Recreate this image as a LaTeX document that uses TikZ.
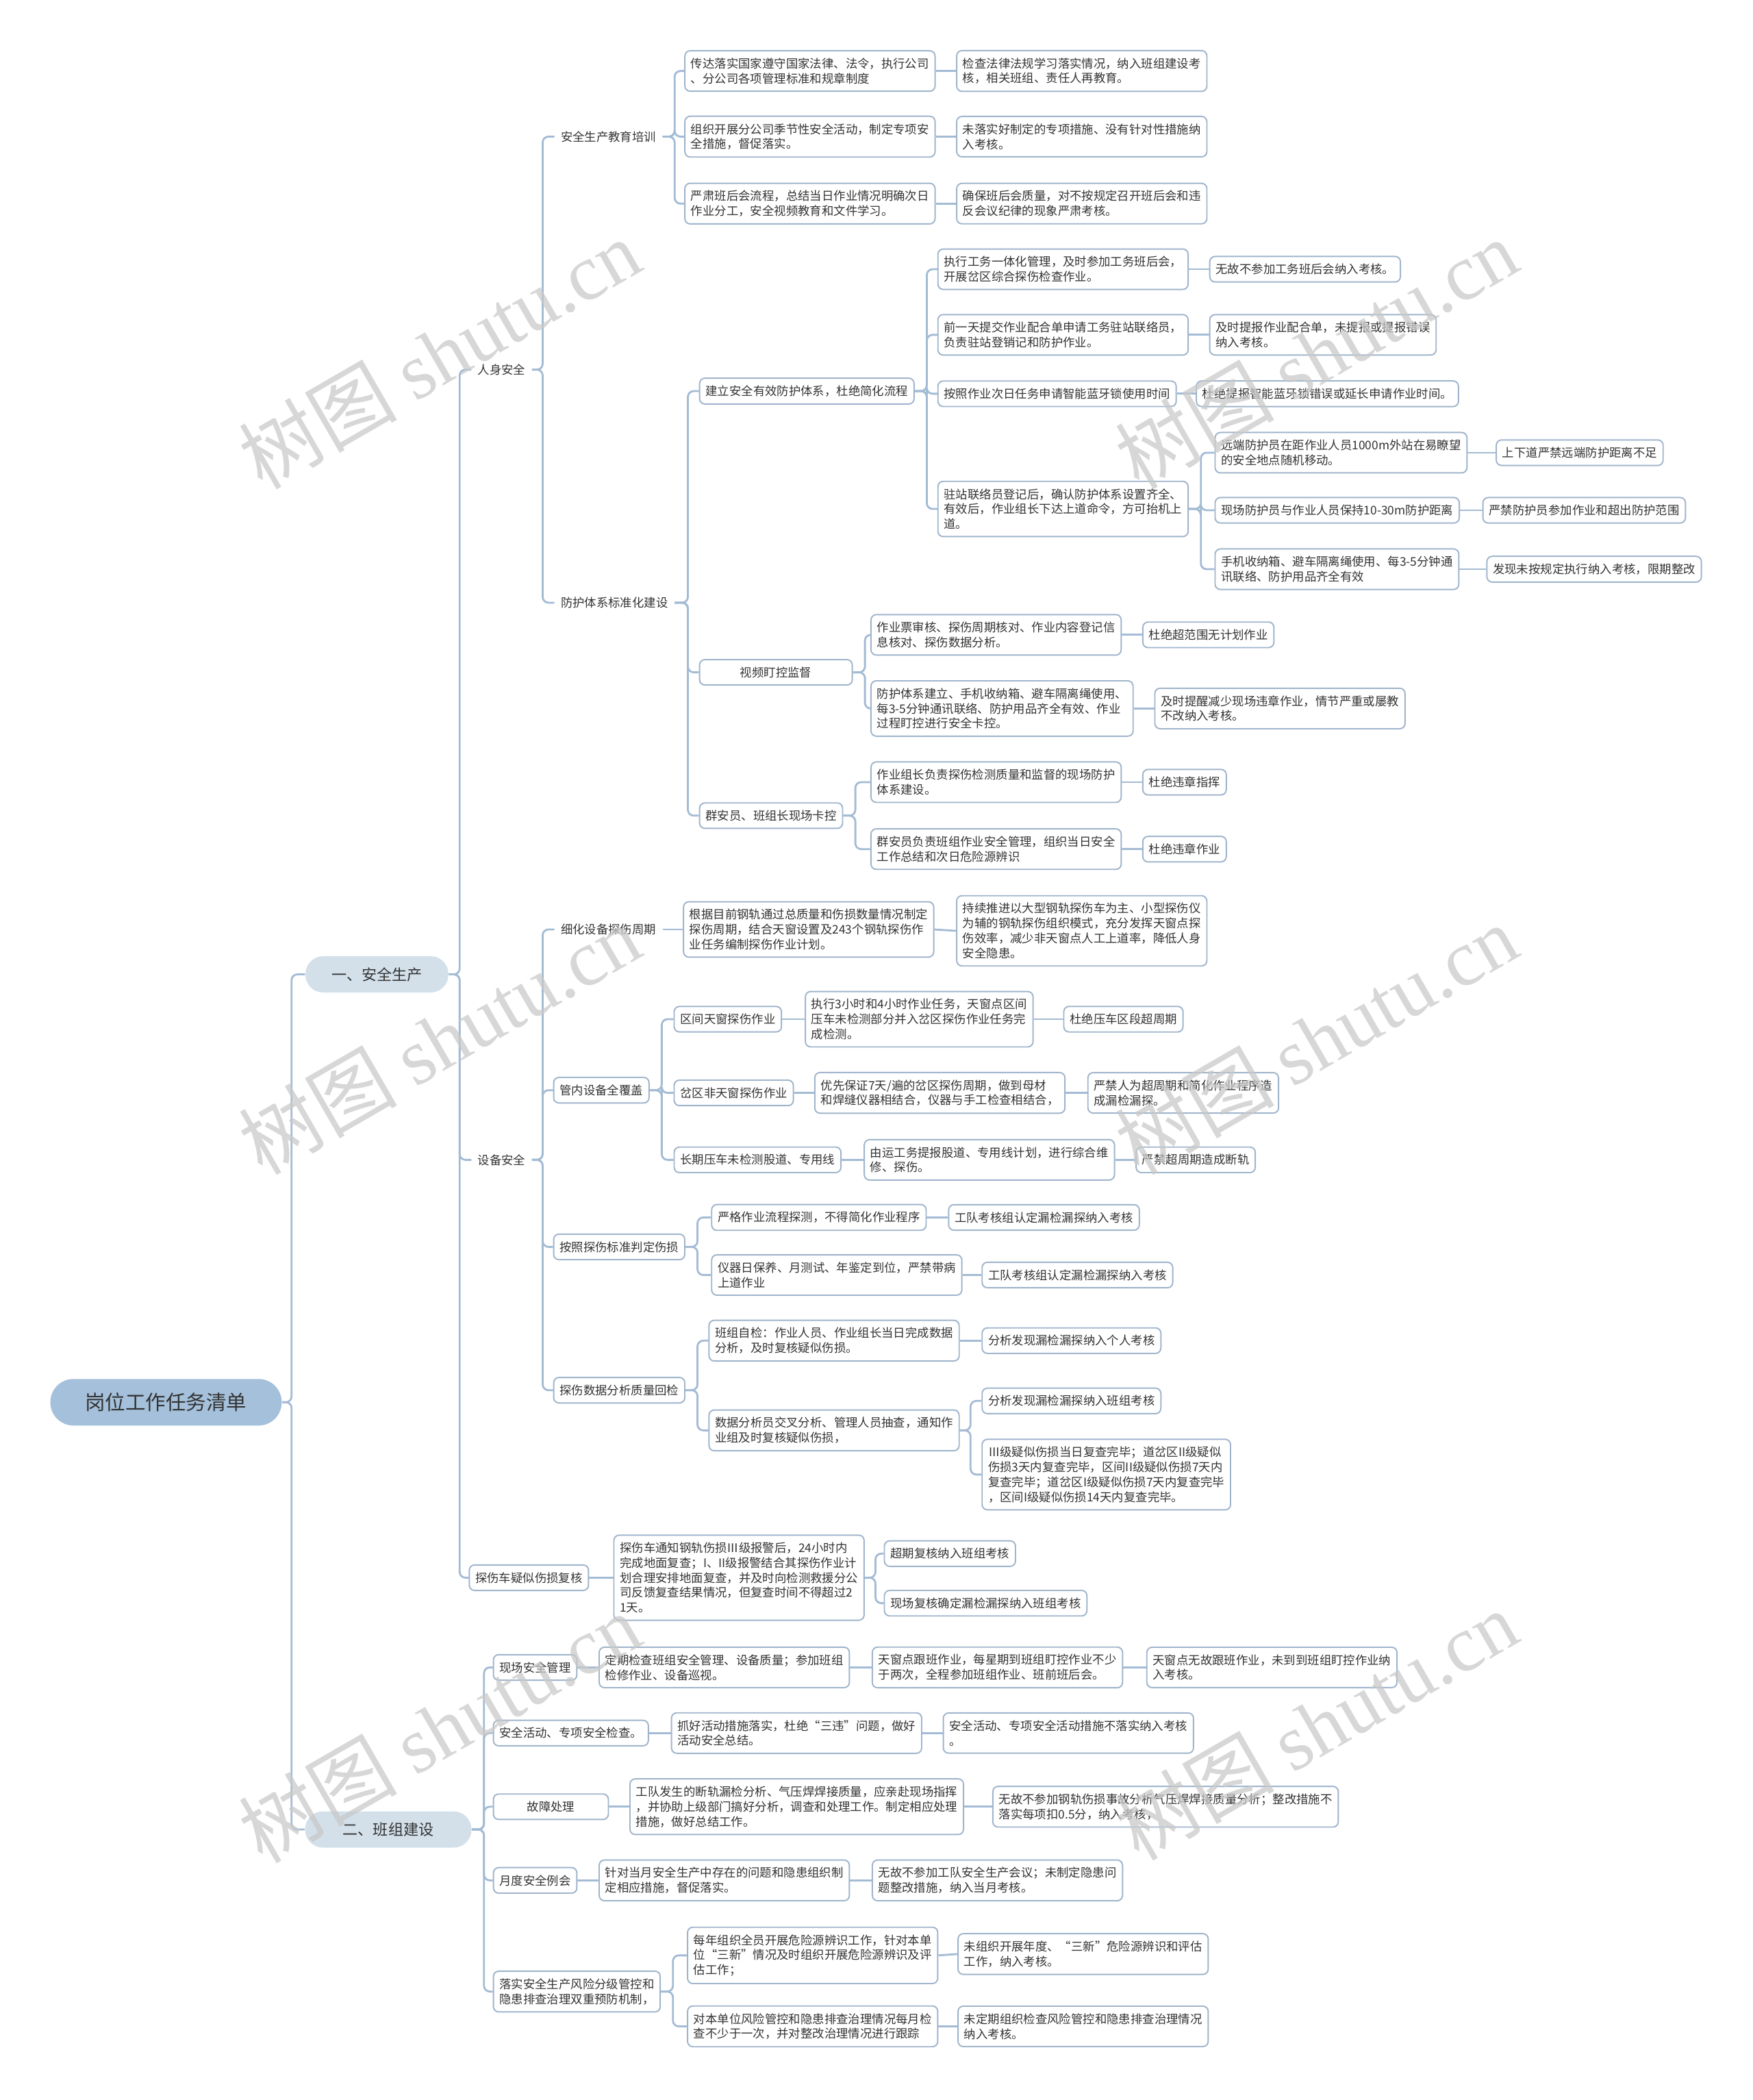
\documentclass[tikz,border=0pt]{standalone}
\usepackage{fontspec}
\setmainfont{Noto Sans CJK SC}
\newfontfamily\wmlatin{Liberation Serif}
\usepackage{tikz}
\usetikzlibrary{positioning}
\definecolor{lineC}{HTML}{A3BBD4}
\definecolor{boxC}{HTML}{A0B5CC}
\definecolor{rootC}{HTML}{A4C0DA}
\definecolor{topicC}{HTML}{D3E0EA}
\definecolor{textC}{HTML}{333333}
\newcommand{\leaffont}{\fontsize{4.95}{6.2}\selectfont}
\tikzset{
  rootN/.style={rectangle, rounded corners=9.6pt, fill=rootC, text=textC,
                minimum width=3.38cm, minimum height=0.68cm,
                font=\fontsize{8.4}{10}\selectfont},
  topicN/.style={rectangle, rounded corners=7.4pt, fill=topicC, text=textC,
                 minimum height=0.53cm, font=\fontsize{6.3}{7.5}\selectfont},
  plainN/.style={anchor=west, inner xsep=2.5pt, inner ysep=3pt,
                 text=textC, font=\leaffont},
  leaf/.style={anchor=west, draw=boxC, line width=0.55pt, fill=white,
               rounded corners=2.2pt, inner xsep=2.5pt, inner ysep=3pt,
               align=left, text=textC, font=\leaffont},
  link/.style={draw=lineC, line width=0.8pt, rounded corners=2.4pt},
  wmark/.style={rotate=30, text=gray!42, opacity=0.75,
                font=\fontsize{33}{33}\selectfont},
}

\begin{document}
\begin{tikzpicture}[x=0.019557cm, y=-0.019557cm]
    \useasboundingbox (0,0) rectangle (1309,1568);
    %% root and main topics
    \node[rootN] (root) at (124,1047) {岗位工作任务清单};
    \node[topicN, minimum width=2.09cm] (t1) at (281.5,727.5) {一、安全生产};
    \node[topicN, minimum width=2.43cm] (t2) at (290,1366) {二、班组建设};
    \foreach \c in {t1,t2}{
      \draw[link] (root.east) -- ++(7,0) |- (\c.west);
    }

    %% 一、安全生产
    \node[plainN] (p1) at (352,276) {人身安全};
    \node[plainN] (p2) at (352,866) {设备安全};
    \node[leaf] (p3) at (350,1178) {探伤车疑似伤损复核};
    \foreach \c in {p1,p2,p3}{
      \draw[link] (t1.east) -- ++(8,0) |- (\c.west);
    }

    %% 人身安全
    \node[plainN] (q1) at (414,102) {安全生产教育培训};
    \node[plainN] (q2) at (414,450) {防护体系标准化建设};
    \foreach \c in {q1,q2}{
      \draw[link] (p1.east) -- ++(8,0) |- (\c.west);
    }

    %% 安全生产教育培训
    \node[leaf] (a1) at (511,53) {传达落实国家遵守国家法律、法令，执行公司\\、分公司各项管理标准和规章制度};
    \node[leaf] (a2) at (511,102) {组织开展分公司季节性安全活动，制定专项安\\全措施，督促落实。};
    \node[leaf] (a3) at (511,152) {严肃班后会流程，总结当日作业情况明确次日\\作业分工，安全视频教育和文件学习。};
    \node[leaf] (b1) at (714,53) {检查法律法规学习落实情况，纳入班组建设考\\核，相关班组、责任人再教育。};
    \node[leaf] (b2) at (714,102) {未落实好制定的专项措施、没有针对性措施纳\\入考核。};
    \node[leaf] (b3) at (714,152) {确保班后会质量，对不按规定召开班后会和违\\反会议纪律的现象严肃考核。};
    \foreach \i in {1,2,3}{
      \draw[link] (q1.east) -- ++(9,0) |- (a\i.west);
      \draw[link] (a\i.east) -- (b\i.west);
    }

    %% 防护体系标准化建设
    \node[leaf] (r1) at (522,292) {建立安全有效防护体系，杜绝简化流程};
    \node[leaf, minimum width=2.23cm, align=center] (r2) at (522,502) {视频盯控监督};
    \node[leaf] (r3) at (522,609) {群安员、班组长现场卡控};
    \foreach \c in {r1,r2,r3}{
      \draw[link] (q2.east) -- ++(10,0) |- (\c.west);
    }

    %% 建立安全有效防护体系
    \node[leaf] (c1) at (700,201) {执行工务一体化管理，及时参加工务班后会，\\开展岔区综合探伤检查作业。};
    \node[leaf] (c2) at (700,250) {前一天提交作业配合单申请工务驻站联络员，\\负责驻站登销记和防护作业。};
    \node[leaf] (c3) at (700,294) {按照作业次日任务申请智能蓝牙锁使用时间};
    \node[leaf] (c4) at (700,380) {驻站联络员登记后，确认防护体系设置齐全、\\有效后，作业组长下达上道命令，方可抬机上\\道。};
    \node[leaf] (e1) at (903,201) {无故不参加工务班后会纳入考核。};
    \node[leaf] (e2) at (903,250) {及时提报作业配合单，未提报或提报错误\\纳入考核。};
    \node[leaf] (e3) at (893,294) {杜绝提报智能蓝牙锁错误或延长申请作业时间。};
    \foreach \c in {c1,c2,c3,c4}{
      \draw[link] (r1.east) -- ++(9,0) |- (\c.west);
    }
    \foreach \i in {1,2,3}{
      \draw[link] (c\i.east) -- (e\i.west);
    }
    \node[leaf] (d1) at (907,338) {远端防护员在距作业人员1000m外站在易瞭望\\的安全地点随机移动。};
    \node[leaf] (d2) at (907,381) {现场防护员与作业人员保持10-30m防护距离};
    \node[leaf] (d3) at (907,425) {手机收纳箱、避车隔离绳使用、每3-5分钟通\\讯联络、防护用品齐全有效};
    \node[leaf] (f1) at (1117,338) {上下道严禁远端防护距离不足};
    \node[leaf] (f2) at (1107,381) {严禁防护员参加作业和超出防护范围};
    \node[leaf] (f3) at (1110,425) {发现未按规定执行纳入考核，限期整改};
    \foreach \i in {1,2,3}{
      \draw[link] (c4.east) -- ++(9,0) |- (d\i.west);
      \draw[link] (d\i.east) -- (f\i.west);
    }

    %% 视频盯控监督
    \node[leaf] (g1) at (650,474) {作业票审核、探伤周期核对、作业内容登记信\\息核对、探伤数据分析。};
    \node[leaf] (g2) at (650,529) {防护体系建立、手机收纳箱、避车隔离绳使用、\\每3-5分钟通讯联络、防护用品齐全有效、作业\\过程盯控进行安全卡控。};
    \node[leaf] (h1) at (853,474) {杜绝超范围无计划作业};
    \node[leaf] (h2) at (862,529) {及时提醒减少现场违章作业，情节严重或屡教\\不改纳入考核。};
    %% 群安员、班组长现场卡控
    \node[leaf] (i1) at (650,584) {作业组长负责探伤检测质量和监督的现场防护\\体系建设。};
    \node[leaf] (i2) at (650,634) {群安员负责班组作业安全管理，组织当日安全\\工作总结和次日危险源辨识};
    \node[leaf] (j1) at (853,584) {杜绝违章指挥};
    \node[leaf] (j2) at (853,634) {杜绝违章作业};
    \foreach \i in {1,2}{
      \draw[link] (r2.east) -- ++(9,0) |- (g\i.west);
      \draw[link] (g\i.east) -- (h\i.west);
      \draw[link] (r3.east) -- ++(9,0) |- (i\i.west);
      \draw[link] (i\i.east) -- (j\i.west);
    }

    %% 设备安全
    \node[plainN] (s1) at (414,694) {细化设备探伤周期};
    \node[leaf] (s2) at (413,814) {管内设备全覆盖};
    \node[leaf] (s3) at (413,931) {按照探伤标准判定伤损};
    \node[leaf] (s4) at (413,1038) {探伤数据分析质量回检};
    \foreach \c in {s1,s2,s3,s4}{
      \draw[link] (p2.east) -- ++(8,0) |- (\c.west);
    }
    \node[leaf] (k1) at (510,694) {根据目前钢轨通过总质量和伤损数量情况制定\\探伤周期，结合天窗设置及243个钢轨探伤作\\业任务编制探伤作业计划。};
    \node[leaf] (k2) at (714,695) {持续推进以大型钢轨探伤车为主、小型探伤仪\\为辅的钢轨探伤组织模式，充分发挥天窗点探\\伤效率，减少非天窗点人工上道率，降低人身\\安全隐患。};
    \draw[link] (s1.east) -- (k1.west);
    \draw[link] (k1.east) -- (k2.west);

    %% 管内设备全覆盖
    \node[leaf] (u1) at (503,761) {区间天窗探伤作业};
    \node[leaf] (u2) at (503,816) {岔区非天窗探伤作业};
    \node[leaf] (u3) at (503,866) {长期压车未检测股道、专用线};
    \node[leaf] (l1) at (601,761) {执行3小时和4小时作业任务，天窗点区间\\压车未检测部分并入岔区探伤作业任务完\\成检测。};
    \node[leaf] (l2) at (608,816) {优先保证7天/遍的岔区探伤周期，做到母材\\和焊缝仪器相结合，仪器与手工检查相结合，};
    \node[leaf] (l3) at (645,866) {由运工务提报股道、专用线计划，进行综合维\\修、探伤。};
    \node[leaf] (m1) at (794,761) {杜绝压车区段超周期};
    \node[leaf] (m2) at (812,816) {严禁人为超周期和简化作业程序造\\成漏检漏探。};
    \node[leaf] (m3) at (848,866) {严禁超周期造成断轨};
    \foreach \i in {1,2,3}{
      \draw[link] (s2.east) -- ++(9,0) |- (u\i.west);
      \draw[link] (u\i.east) -- (l\i.west);
      \draw[link] (l\i.east) -- (m\i.west);
    }

    %% 按照探伤标准判定伤损
    \node[leaf] (n1) at (531,909) {严格作业流程探测，不得简化作业程序};
    \node[leaf] (n2) at (531,952) {仪器日保养、月测试、年鉴定到位，严禁带病\\上道作业};
    \node[leaf] (o1) at (708,909) {工队考核组认定漏检漏探纳入考核};
    \node[leaf] (o2) at (733,952) {工队考核组认定漏检漏探纳入考核};
    \foreach \i in {1,2}{
      \draw[link] (s3.east) -- ++(9,0) |- (n\i.west);
      \draw[link] (n\i.east) -- (o\i.west);
    }

    %% 探伤数据分析质量回检
    \node[leaf] (v1) at (529,1001) {班组自检：作业人员、作业组长当日完成数据\\分析，及时复核疑似伤损。};
    \node[leaf] (v2) at (529,1068) {数据分析员交叉分析、管理人员抽查，通知作\\业组及时复核疑似伤损，};
    \node[leaf] (w1) at (733,1001) {分析发现漏检漏探纳入个人考核};
    \node[leaf] (w2) at (733,1046) {分析发现漏检漏探纳入班组考核};
    \node[leaf] (w3) at (733,1101) {Ⅲ级疑似伤损当日复查完毕；道岔区II级疑似\\伤损3天内复查完毕，区间II级疑似伤损7天内\\复查完毕；道岔区I级疑似伤损7天内复查完毕\\，区间I级疑似伤损14天内复查完毕。};
    \foreach \c in {v1,v2}{
      \draw[link] (s4.east) -- ++(9,0) |- (\c.west);
    }
    \draw[link] (v1.east) -- (w1.west);
    \foreach \c in {w2,w3}{
      \draw[link] (v2.east) -- ++(8,0) |- (\c.west);
    }

    %% 探伤车疑似伤损复核
    \node[leaf] (x1) at (458,1178) {探伤车通知钢轨伤损Ⅲ级报警后，24小时内\\完成地面复查；I、II级报警结合其探伤作业计\\划合理安排地面复查，并及时向检测救援分公\\司反馈复查结果情况，但复查时间不得超过2\\1天。};
    \node[leaf] (y1) at (660,1160) {超期复核纳入班组考核};
    \node[leaf] (y2) at (660,1197) {现场复核确定漏检漏探纳入班组考核};
    \draw[link] (p3.east) -- (x1.west);
    \foreach \c in {y1,y2}{
      \draw[link] (x1.east) -- ++(8,0) |- (\c.west);
    }

    %% 二、班组建设
    \node[leaf] (z1) at (368,1245) {现场安全管理};
    \node[leaf] (z2) at (368,1294) {安全活动、专项安全检查。};
    \node[leaf, minimum width=1.68cm, align=center] (z3) at (368,1349) {故障处理};
    \node[leaf] (z4) at (368,1404) {月度安全例会};
    \node[leaf] (z5) at (368,1487) {落实安全生产风险分级管控和\\隐患排查治理双重预防机制，};
    \foreach \c in {z1,z2,z3,z4,z5}{
      \draw[link] (t2.east) -- ++(9,0) |- (\c.west);
    }
    \node[leaf] (za) at (447,1245) {定期检查班组安全管理、设备质量；参加班组\\检修作业、设备巡视。};
    \node[leaf] (zb) at (651,1245) {天窗点跟班作业，每星期到班组盯控作业不少\\于两次，全程参加班组作业、班前班后会。};
    \node[leaf] (zc) at (856,1245) {天窗点无故跟班作业，未到到班组盯控作业纳\\入考核。};
    \node[leaf] (zd) at (501,1294) {抓好活动措施落实，杜绝“三违”问题，做好\\活动安全总结。};
    \node[leaf] (ze) at (704,1294) {安全活动、专项安全活动措施不落实纳入考核\\。};
    \node[leaf] (zf) at (470,1349) {工队发生的断轨漏检分析、气压焊焊接质量，应亲赴现场指挥\\，并协助上级部门搞好分析，调查和处理工作。制定相应处理\\措施，做好总结工作。};
    \node[leaf] (zg) at (741,1349) {无故不参加钢轨伤损事故分析气压焊焊接质量分析；整改措施不\\落实每项扣0.5分，纳入考核，};
    \node[leaf] (zh) at (447,1404) {针对当月安全生产中存在的问题和隐患组织制\\定相应措施，督促落实。};
    \node[leaf] (zi) at (651,1404) {无故不参加工队安全生产会议；未制定隐患问\\题整改措施，纳入当月考核。};
    \foreach \a/\b in {z1/za,za/zb,zb/zc,z2/zd,zd/ze,z3/zf,zf/zg,z4/zh,zh/zi}{
      \draw[link] (\a.east) -- (\b.west);
    }
    \node[leaf] (k5a) at (513,1460) {每年组织全员开展危险源辨识工作，针对本单\\位“三新”情况及时组织开展危险源辨识及评\\估工作；};
    \node[leaf] (k5b) at (513,1513) {对本单位风险管控和隐患排查治理情况每月检\\查不少于一次，并对整改治理情况进行跟踪};
    \node[leaf] (k5c) at (715,1459) {未组织开展年度、“三新”危险源辨识和评估\\工作，纳入考核。};
    \node[leaf] (k5d) at (715,1513) {未定期组织检查风险管控和隐患排查治理情况\\纳入考核。};
    \foreach \c in {k5a,k5b}{
      \draw[link] (z5.east) -- ++(9,0) |- (\c.west);
    }
    \draw[link] (k5a.east) -- (k5c.west);
    \draw[link] (k5b.east) -- (k5d.west);

    %% watermark
    \foreach \x/\y in {328/264,983/264,328/776,983/776,328/1290,983/1288}{
      \node[wmark] at (\x,\y) {树图 {\wmlatin shutu.cn}};
    }
\end{tikzpicture}
\end{document}
